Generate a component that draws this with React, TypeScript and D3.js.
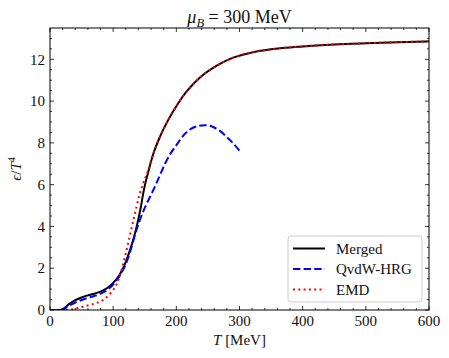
import React from "react";
import * as d3 from "d3";

// Merged curve
const mergedT = [0, 15, 22, 30, 40, 50, 60, 70, 80, 90, 100, 110, 120, 127, 133, 138, 143, 148, 155, 163, 174, 187, 203, 216, 237, 264, 290, 317, 350, 400, 450, 500, 550, 600];
const mergedE = [0, 0, 0.08, 0.28, 0.47, 0.6, 0.7, 0.78, 0.88, 1.04, 1.3, 1.68, 2.3, 2.9, 3.5, 4.1, 4.8, 5.65, 6.55, 7.42, 8.29, 9.09, 9.9, 10.45, 11.12, 11.7, 12.08, 12.31, 12.48, 12.62, 12.71, 12.77, 12.82, 12.86];

// QvdW-HRG curve
const hrgT = [0, 15, 22, 30, 40, 50, 60, 70, 80, 90, 100, 110, 120, 127, 135, 148, 158, 166, 174, 182, 190, 198, 214, 230, 245, 259, 270, 280, 290, 300];
const hrgE = [0, 0, 0.05, 0.2, 0.36, 0.48, 0.58, 0.67, 0.78, 0.95, 1.22, 1.62, 2.2, 2.8, 3.65, 4.75, 5.4, 5.9, 6.45, 7.0, 7.45, 7.8, 8.45, 8.77, 8.85, 8.75, 8.55, 8.28, 7.98, 7.62];

// EMD curve
const emdT = [0, 25, 35, 45, 55, 65, 75, 85, 95, 100, 105, 110, 115, 121, 126, 132, 137, 142, 148, 155, 163, 174, 187, 203, 216, 237, 264, 290, 317, 350, 400, 450, 500, 550, 600];
const emdE = [0, 0, 0.03, 0.1, 0.18, 0.26, 0.35, 0.5, 0.78, 0.96, 1.2, 1.6, 2.1, 2.85, 3.5, 4.3, 4.95, 5.55, 6.1, 6.65, 7.45, 8.29, 9.09, 9.9, 10.45, 11.12, 11.7, 12.08, 12.31, 12.48, 12.62, 12.71, 12.77, 12.82, 12.86];

const xTicks = [0, 100, 200, 300, 400, 500, 600];
const yTicks = [0, 2, 4, 6, 8, 10, 12];
const legendLabels = ["Merged", "QvdW-HRG", "EMD"];

const W = 449, H = 358;
const left = 50, right = 429, top = 28, bottom = 310;
const font = "'Liberation Serif', 'DejaVu Serif', serif";
const ink = "#111";

const series = [
  { t: mergedT, e: mergedE, color: "#000000", dash: "none" },
  { t: hrgT, e: hrgE, color: "#0000ff", dash: "7.4,3.2" },
  { t: emdT, e: emdE, color: "#ff0000", dash: "2,3.3" },
];

export default function App() {
  const x = d3.scaleLinear().domain([0, 600]).range([left, right]);
  const y = d3.scaleLinear().domain([0, 13.5]).range([bottom, top]);
  const line = d3
    .line<[number, number]>()
    .x(d => x(d[0]))
    .y(d => y(d[1]))
    .curve(d3.curveMonotoneX);

  const xMinor = d3.range(0, 601, 20);
  const yMinor = d3.range(0, 13.5, 0.5);

  const lx = 288, ly = 236, lw = 134, lh = 66;

  return (
    <svg width={W} height={H} style={{ position: "absolute", left: 0, top: 0, background: "#fff" }} fontFamily={font}>
      <defs>
        <clipPath id="plot">
          <rect x={left} y={top} width={right - left} height={bottom - top} />
        </clipPath>
      </defs>
      <g clipPath="url(#plot)">
        {series.map((s, i) => (
          <path
            key={i}
            d={line(s.t.map((t, j) => [t, s.e[j]] as [number, number])) || ""}
            fill="none"
            stroke={s.color}
            strokeWidth={2}
            strokeDasharray={s.dash}
          />
        ))}
      </g>

      {/* ticks, inward on all four sides */}
      {xMinor.map(v => (
        <g key={"xm" + v} stroke="#000" strokeWidth={0.8}>
          <line x1={x(v)} x2={x(v)} y1={bottom} y2={bottom - (v % 100 === 0 ? 4 : 2)} />
          <line x1={x(v)} x2={x(v)} y1={top} y2={top + (v % 100 === 0 ? 4 : 2)} />
        </g>
      ))}
      {yMinor.map(v => (
        <g key={"ym" + v} stroke="#000" strokeWidth={0.8}>
          <line x1={left} x2={left + (v % 2 === 0 ? 4 : 2)} y1={y(v)} y2={y(v)} />
          <line x1={right} x2={right - (v % 2 === 0 ? 4 : 2)} y1={y(v)} y2={y(v)} />
        </g>
      ))}
      <rect x={left} y={top} width={right - left} height={bottom - top} fill="none" stroke="#000" strokeWidth={1} />

      {xTicks.map(v => (
        <text key={"xt" + v} x={x(v)} y={326} textAnchor="middle" fontSize={15} fill={ink}>
          {v}
        </text>
      ))}
      {yTicks.map(v => (
        <text key={"yt" + v} x={45} y={y(v)} dy="0.35em" textAnchor="end" fontSize={15} fill={ink}>
          {v}
        </text>
      ))}

      <text x={(left + right) / 2} y={345} textAnchor="middle" fontSize={15} fill={ink}>
        <tspan fontStyle="italic">T</tspan> [MeV]
      </text>
      <text transform={`translate(21,${(top + bottom) / 2}) rotate(-90)`} textAnchor="middle" fontSize={15} fill={ink}>
        <tspan fontStyle="italic">ϵ</tspan>/<tspan fontStyle="italic">T</tspan>
        <tspan fontSize={10} dy={-6}>4</tspan>
      </text>
      <text x={(left + right) / 2} y={23} textAnchor="middle" fontSize={18} fill={ink}>
        <tspan fontStyle="italic">μ</tspan>
        <tspan fontStyle="italic" fontSize={12.5} dy={4}>B</tspan>
        <tspan dy={-4}> = 300 MeV</tspan>
      </text>

      {/* legend */}
      <rect x={lx} y={ly} width={lw} height={lh} rx={3} fill="#fff" fillOpacity={0.8} stroke="#ccc" strokeWidth={1} />
      {legendLabels.map((lab, i) => {
        const cy = ly + 12.5 + i * 20.5;
        return (
          <g key={lab}>
            <line x1={lx + 5} x2={lx + 37} y1={cy} y2={cy} stroke={series[i].color} strokeWidth={2} strokeDasharray={series[i].dash} />
            <text x={lx + 48} y={cy} dy="0.35em" fontSize={15} fill={ink}>
              {lab}
            </text>
          </g>
        );
      })}
    </svg>
  );
}
